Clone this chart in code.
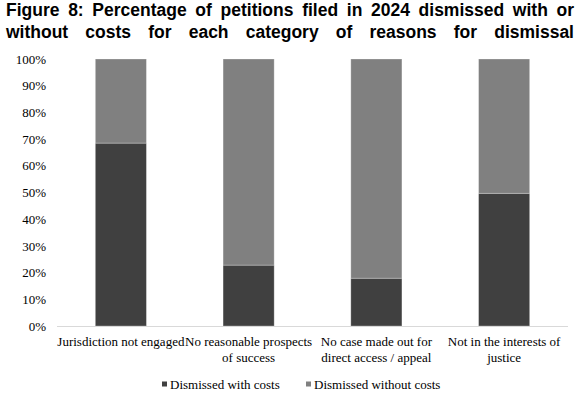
<!DOCTYPE html>
<html lang="en">
  <head>
    <meta charset="UTF-8" />
    <title>Figure 8</title>
    <script src="https://d3js.org/d3.v7.min.js"></script>
    <style>
      body {
        margin: 0;
        background: #fff;
      }
      svg text {
        fill: #000;
      }
    </style>
  </head>
  <body>
    <div id="chart"></div>
    <script>
      const categories = [
        ["Jurisdiction not engaged"],
        ["No reasonable prospects", "of success"],
        ["No case made out for", "direct access / appeal"],
        ["Not in the interests of", "justice"],
      ];
      const withCosts = [68.5, 22.8, 17.9, 49.7];
      const withoutCosts = withCosts.map((v) => 100 - v);
      const seriesNames = ["Dismissed with costs", "Dismissed without costs"];
      const seriesColors = ["#404040", "#808080"];
      const tickValues = [0, 10, 20, 30, 40, 50, 60, 70, 80, 90, 100];
      const titleLines = [
        "Figure 8: Percentage of petitions filed in 2024 dismissed with or",
        "without costs for each category of reasons for dismissal",
      ];

      const width = 580,
        height = 394;
      const margin = { top: 59, right: 12, bottom: 68, left: 57 };
      const serif = "'Liberation Serif', 'Times New Roman', serif";

      const svg = d3
        .select("#chart")
        .append("svg")
        .attr("width", width)
        .attr("height", height);

      // title, justified word by word like the original
      const titleFont = "bold 17.5px Arial, 'Liberation Sans', sans-serif";
      titleLines.forEach((line, li) => {
        const words = line.split(" ");
        const g = svg.append("g");
        const texts = words.map((w) =>
          g
            .append("text")
            .attr("y", 16 + li * 22)
            .style("font", titleFont)
            .text(w)
        );
        const widths = texts.map((t) => t.node().getComputedTextLength());
        const left = 6,
          right = 574;
        const gap =
          (right - left - d3.sum(widths)) / Math.max(1, words.length - 1);
        let x = left;
        texts.forEach((t, i) => {
          t.attr("x", x);
          x += widths[i] + gap;
        });
      });

      const x = d3
        .scaleBand()
        .domain(d3.range(categories.length))
        .range([margin.left, width - margin.right])
        .paddingInner(0.6)
        .paddingOuter(0.3);

      const y = d3
        .scaleLinear()
        .domain([0, 100])
        .range([height - margin.bottom, margin.top]);

      const stackData = withCosts.map((v, i) => ({
        i: i,
        a: v,
        b: withoutCosts[i],
      }));
      const layers = d3.stack().keys(["a", "b"])(stackData);

      svg
        .selectAll("g.layer")
        .data(layers)
        .enter()
        .append("g")
        .attr("class", "layer")
        .attr("fill", (d, i) => seriesColors[i])
        .selectAll("rect")
        .data((d) => d)
        .enter()
        .append("rect")
        .attr("x", (d) => x(d.data.i))
        .attr("width", x.bandwidth())
        .attr("y", (d) => y(d[1]))
        .attr("height", (d) => y(d[0]) - y(d[1]))
        .attr("stroke", "#fff")
        .attr("stroke-opacity", 0.35)
        .attr("stroke-width", 0.8);

      // y axis labels
      const yAxis = d3
        .axisLeft(y)
        .tickValues(tickValues)
        .tickFormat((d) => d + "%")
        .tickSize(0)
        .tickPadding(11);
      const yg = svg
        .append("g")
        .attr("transform", `translate(${margin.left},0)`)
        .call(yAxis)
        .attr("font-family", serif)
        .attr("font-size", 13);
      yg.select(".domain").remove();
      yg.selectAll("text").attr("fill", "#000");

      // x axis baseline
      svg
        .append("line")
        .attr("x1", margin.left)
        .attr("x2", width - margin.right)
        .attr("y1", y(0) + 0.5)
        .attr("y2", y(0) + 0.5)
        .attr("stroke", "#d9d9d9")
        .attr("stroke-width", 1);

      // category labels
      const catG = svg
        .append("g")
        .attr("font-family", serif)
        .attr("font-size", 13);
      categories.forEach((lines, i) => {
        lines.forEach((t, j) => {
          catG
            .append("text")
            .attr("x", x(i) + x.bandwidth() / 2)
            .attr("y", y(0) + 20 + j * 15.5)
            .attr("text-anchor", "middle")
            .text(t);
        });
      });

      // legend
      const legend = svg
        .append("g")
        .attr("font-family", serif)
        .attr("font-size", 13);
      const legendX = [162, 306];
      seriesNames.forEach((name, i) => {
        legend
          .append("rect")
          .attr("x", legendX[i])
          .attr("y", 381.5)
          .attr("width", 5)
          .attr("height", 5)
          .attr("fill", seriesColors[i]);
        legend
          .append("text")
          .attr("x", legendX[i] + 8)
          .attr("y", 389)
          .text(name);
      });
    </script>
  </body>
</html>
